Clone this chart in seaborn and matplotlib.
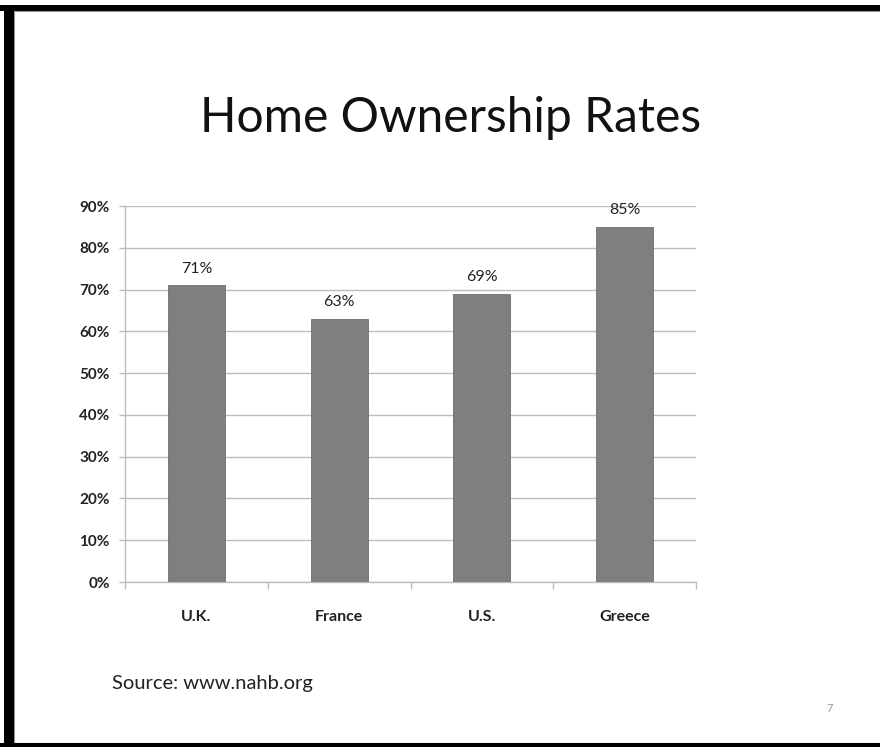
import matplotlib
matplotlib.use("Agg")
import matplotlib.pyplot as plt
from matplotlib.patches import Rectangle
from matplotlib.ticker import FixedLocator, PercentFormatter
import seaborn as sns
import pandas as pd

countries = ["U.K.", "France", "U.S.", "Greece"]
rates = [71, 63, 69, 85]
y_ticks = [0, 10, 20, 30, 40, 50, 60, 70, 80, 90]
title = "Home Ownership Rates"
source = "Source: www.nahb.org"
page_number = "7"

sns.set_theme(style="white")
plt.rcParams["font.family"] = ["Lato", "DejaVu Sans"]

W, H = 880, 747
fig = plt.figure(figsize=(W / 100, H / 100), dpi=100)
fig.patch.set_facecolor("white")

ax = fig.add_axes([125 / W, (H - 582) / H, (696 - 125) / W, (582 - 206) / H])

df = pd.DataFrame({"country": countries, "rate": rates})
sns.barplot(data=df, x="country", y="rate", color="#7f7f7f", saturation=1,
            width=0.4, edgecolor="#6e6e6e", linewidth=0.6, ax=ax, zorder=3)

ax.set_xlim(-0.5, len(countries) - 0.5)
ax.set_ylim(0, 90)
ax.yaxis.set_major_locator(FixedLocator(y_ticks))
ax.yaxis.set_major_formatter(PercentFormatter(decimals=0))
ax.grid(axis="y", color="#bdbdbd", linewidth=1.0, zorder=0)
ax.set_xlabel("")
ax.set_ylabel("")

for side in ("top", "right"):
    ax.spines[side].set_visible(False)
for side in ("left", "bottom"):
    ax.spines[side].set_color("#bdbdbd")
    ax.spines[side].set_linewidth(1.0)

ax.tick_params(axis="y", which="major", left=True, length=4, width=1.0,
               color="#bdbdbd", pad=7, labelsize=11, labelcolor="#222222")
ax.tick_params(axis="x", which="major", bottom=False, pad=14,
               labelsize=11.5, labelcolor="#222222")
ax.set_xticks([i - 0.5 for i in range(len(countries) + 1)], minor=True)
ax.tick_params(axis="x", which="minor", bottom=True, length=5, width=1.0,
               color="#bdbdbd")
for lbl in ax.get_yticklabels() + ax.get_xticklabels():
    lbl.set_fontweight("bold")

for i, v in enumerate(rates):
    ax.annotate(f"{v}%", (i, v), xytext=(0, 7), textcoords="offset points",
                ha="center", va="bottom", fontsize=11.5, color="#222222",
                zorder=5)

fig.text(451 / W, 1 - 118 / H, title, ha="center", va="center",
         fontsize=34.5, color="#111111")
fig.text(112 / W, 1 - 683 / H, source, ha="left", va="center",
         fontsize=14.5, color="#222222")
fig.text(830 / W, 1 - 708 / H, page_number, ha="center", va="center",
         fontsize=8, color="#9a9a9a")

# slide frame: heavy black edge on the top, left and bottom
frame = [
    (0, (H - 11) / H, 1, 6 / H),
    (4 / W, 0, 10 / W, (H - 5) / H),
    (0, 0, 1, 4 / H),
]
for x0, y0, w, h in frame:
    fig.add_artist(Rectangle((x0, y0), w, h, transform=fig.transFigure,
                             facecolor="black", edgecolor="none", zorder=10))
fig.add_artist(Rectangle((14 / W, 4 / H), 1, (H - 15) / H,
                         transform=fig.transFigure, facecolor="none",
                         edgecolor="#9a9a9a", linewidth=0.8, zorder=9))

fig.savefig("out.png", dpi=100)
